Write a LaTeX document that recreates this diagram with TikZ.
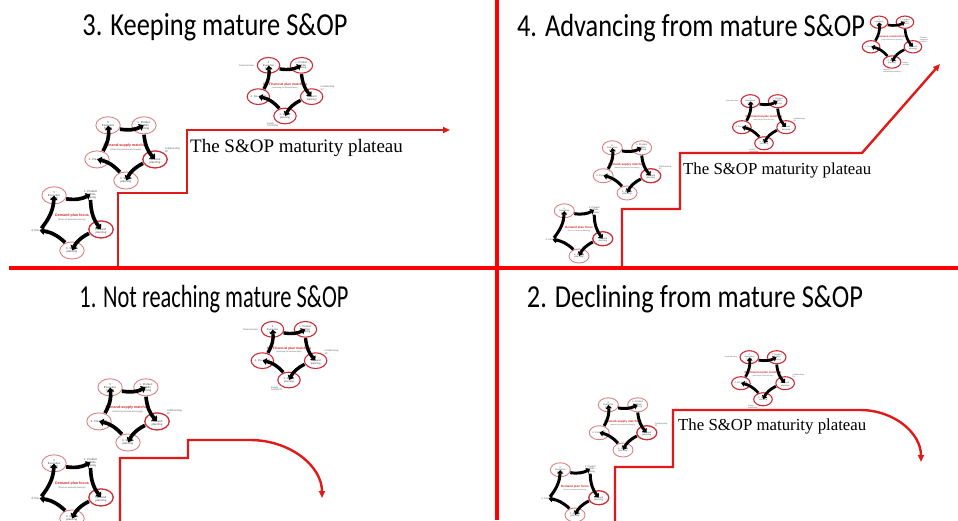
\documentclass[tikz,border=0pt]{standalone}
\usepackage{fontspec}
\setmainfont{Carlito}
\newfontfamily\plateaufont{Liberation Serif}
\newfontfamily\tinysans{Liberation Sans}
\usetikzlibrary{arrows.meta,shapes.geometric}

\definecolor{divred}{RGB}{255,0,0}
\definecolor{stairred}{RGB}{225,25,25}
\definecolor{ringred}{RGB}{205,45,55}
\definecolor{ringpale}{RGB}{218,130,135}
\definecolor{hubred}{RGB}{210,40,40}
\definecolor{notegray}{RGB}{95,95,95}

\tikzset{
  divider/.style={draw=divred, line width=4pt},
  stair/.style={draw=stairred, line width=2.4pt, line join=miter,
    -{Triangle[length=7pt,width=6pt]}},
  heading/.style={font=\fontsize{32}{36}\selectfont, anchor=base, inner sep=0pt},
  plateau/.style={font=\plateaufont\fontsize{#1}{#1}\selectfont, anchor=base west, inner sep=0pt},
  ring/.style={ellipse, draw=#1, line width=0.9pt, minimum width=20pt, minimum height=14pt,
    inner sep=0pt, align=center, text=black!75, font=\tinysans\fontsize{2.3}{2.5}\selectfont},
  ring/.default=ringred,
  bare/.style={inner sep=0.6pt, align=center, text=black!75, font=\tinysans\fontsize{2.3}{2.5}\selectfont},
  note/.style={inner sep=0.3pt, align=left, text=notegray, font=\tinysans\fontsize{2.1}{2.3}\selectfont},
  hub/.style={inner sep=0pt, align=center, font=\tinysans\fontsize{3}{3.3}\selectfont},
  cyc/.style={draw=black, -{Triangle[length=0pt 1.2,width=0pt 2.0]},
    shorten <=0.3pt, shorten >=0.2pt},
}

% hub caption: red title over a grey sub-line
\newcommand\hubtext[2]{\textcolor{hubred}{\textbf{#1}}\\[-0.3pt]
  {\color{notegray}\fontsize{1.8}{2.1}\selectfont #2}}

% five-step cycle, arrows running clockwise
\newcommand\cyclearrows[1]{%
  \foreach \a/\b in {tl/tr, tr/rt, rt/bt, bt/lf, lf/tl}
    \draw[cyc, line width={3pt*#1}] (\a) to[bend right=18] (\b);}

% stage 1: demand plan focus
\newcommand\stageI[3]{%
\begin{scope}[shift={(#2)}, scale=#3, transform shape, name prefix=#1-]
  \node[ring=ringpale] (tl) at (-126:25) {5\\Executive\\S\&OP};
  \node[bare] (tr) at (-54:26) {1. Product\\portfolio\\planning};
  \node[ring, line width=1.3pt] (rt) at (18:25) {2\\Demand\\planning};
  \node[ring=ringpale] (bt) at (90:25) {3. Supply\\planning};
  \node[bare] (lf) at (162:28) {4. Pre-S\&OP};
  \node[hub] (hub) at (0,-2) {\hubtext{Demand plan focus}{(focus on demand planning)}};
  \cyclearrows{#3}
\end{scope}}

% stage 2: demand-supply matching
\newcommand\stageII[3]{%
\begin{scope}[shift={(#2)}, scale=#3, transform shape, name prefix=#1-]
  \node[ring=ringpale] (tl) at (-126:25) {5\\Executive\\S\&OP};
  \node[ring=ringpale] (tr) at (-54:25) {1. Product\\portfolio\\planning};
  \node[ring, line width=1.3pt] (rt) at (18:25) {2\\Demand\\planning};
  \node[ring=ringpale] (bt) at (90:25) {3. Supply\\planning};
  \node[ring=ringpale] (lf) at (162:25) {4. Pre-S\&OP};
  \node[hub] (hub) at (0,-2) {\hubtext{Demand-supply matching}{(balancing demand and supply)}};
  \node[note, anchor=south west] (n1) at (rt.north east) {Collaborating\\SP};
  \cyclearrows{#3}
\end{scope}}

% stage 3: financial plan matching
\newcommand\stageIII[3]{%
\begin{scope}[shift={(#2)}, scale=#3, transform shape, name prefix=#1-]
  \node[ring, line width=1.1pt] (tl) at (-126:25) {5\\Executive\\S\&OP};
  \node[ring, line width=1.1pt] (tr) at (-54:25) {1. Product\\portfolio\\planning};
  \node[ring, line width=1.1pt] (rt) at (18:25) {2\\Demand\\planning};
  \node[ring, line width=1.1pt] (bt) at (90:25) {3. Supply\\planning};
  \node[ring, line width=1.1pt] (lf) at (162:25) {4. Pre-S\&OP};
  \node[hub] (hub) at (0,-2) {\hubtext{III - Financial plan matching}{(matching the financial plan)}};
  \node[note, anchor=east] (n1) at ([xshift=-2pt]tl.west) {Financial view};
  \node[note, anchor=south west] (n2) at (rt.north east) {Collaborating\\SP};
  \node[note, anchor=north east] (n3) at ([xshift=2pt]bt.south west) {Supply\\constraints};
  \cyclearrows{#3}
\end{scope}}

% stage 4: business-oriented focus
\newcommand\stageIV[3]{%
\begin{scope}[shift={(#2)}, scale=#3, transform shape, name prefix=#1-]
  \node[ring, line width=1.1pt] (tl) at (-126:25) {5\\Executive\\S\&OP};
  \node[ring, line width=1.1pt] (tr) at (-54:25) {1. Product\\portfolio\\planning};
  \node[ring, line width=1.1pt] (rt) at (18:25) {2\\Demand\\planning};
  \node[ring, line width=1.1pt] (bt) at (90:25) {3. Supply\\planning};
  \node[ring, line width=1.1pt] (lf) at (162:25) {4. Pre-S\&OP};
  \node[hub] (hub) at (0,-2) {\hubtext{Business-oriented focus}{(integrated business planning)}};
  \node[note, anchor=south west] (n1) at ([yshift=-1pt]rt.north east) {Demand\\shaping \&\\creation};
  \node[note, anchor=north west] (n2) at ([xshift=1pt]bt.east) {Margin\\analysis};
  \node[note, anchor=north] (n3) at ([yshift=-0.5pt]bt.south) {Network\\optimization planning};
  \cyclearrows{#3}
\end{scope}}

\begin{document}
\begin{tikzpicture}[x=1pt, y=-1pt]
\useasboundingbox (0,0) rectangle (958,520);

% ---------- 3. Keeping mature S&OP ----------
\node[heading] (t3) at (215,35) {\scalebox{0.825}[1]{3. Keeping mature S\&OP}};
\stageI{k1}{72,220}{1.22}
\stageII{k2}{126,150}{1.22}
\stageIII{k3}{285,88}{1.12}
\coordinate (k0) at (118,266);
\coordinate (ka) at (118,193);
\coordinate (kb) at (187,193);
\coordinate (kc) at (187,130);
\coordinate (kd) at (450,130);
\draw[stair] (k0) -- (ka) -- (kb) -- (kc) -- (kd);
\node[plateau=19] (p3) at (190,152) {The S\&OP maturity plateau};

% ---------- 4. Advancing from mature S&OP ----------
\node[heading] (t4) at (691,36) {\scalebox{0.825}[1]{4. Advancing from mature S\&OP}};
\stageI{a1}{579,231}{1.0}
\stageII{a2}{627,168}{1.0}
\stageIII{a3}{764,120}{0.93}
\stageIV{a4}{892,40}{0.88}
\coordinate (a0) at (622,266);
\coordinate (aa) at (622,209);
\coordinate (ab) at (680,209);
\coordinate (ac) at (680,153);
\coordinate (ad) at (862,153);
\coordinate (ae) at (940,64);
\draw[stair] (a0) -- (aa) -- (ab) -- (ac) -- (ad) -- (ae);
\node[plateau=16.8] (p4) at (683,174) {The S\&OP maturity plateau};

% ---------- 1. Not reaching mature S&OP ----------
\node[heading] (t1) at (214,307) {\scalebox{0.7}[1]{1. Not reaching mature S\&OP}};
\stageI{n1}{72,488}{1.22}
\stageII{n2}{128,412}{1.22}
\stageIII{n3}{289,352}{1.12}
\coordinate (n0) at (120,522);
\coordinate (na) at (120,458);
\coordinate (nb) at (188,458);
\coordinate (nc) at (188,440);
\coordinate (nd) at (250,440);
\coordinate (ne) at (322,498);
\draw[stair] (n0) -- (na) -- (nb) -- (nc) -- (nd)
  .. controls (290,440) and (322,466) .. (ne);

% ---------- 2. Declining from mature S&OP ----------
\node[heading] (t2) at (695,307) {\scalebox{0.825}[1]{2. Declining from mature S\&OP}};
\stageI{d1}{575,490}{1.0}
\stageII{d2}{623,425}{1.0}
\stageIII{d3}{763,376}{0.93}
\coordinate (d0) at (615,522);
\coordinate (da) at (615,467);
\coordinate (db) at (673,467);
\coordinate (dc) at (673,410);
\coordinate (dd) at (860,410);
\coordinate (de) at (921,462);
\draw[stair] (d0) -- (da) -- (db) -- (dc) -- (dd)
  .. controls (894,410) and (921,433) .. (de);
\node[plateau=16.8] (p2) at (678,430) {The S\&OP maturity plateau};

% ---------- quadrant dividers ----------
\coordinate (hl) at (9,268);
\coordinate (hr) at (958,268);
\coordinate (vt) at (497,0);
\coordinate (vb) at (497,520);
\draw[divider] (hl) -- (hr);
\draw[divider] (vt) -- (vb);
\end{tikzpicture}
\end{document}
